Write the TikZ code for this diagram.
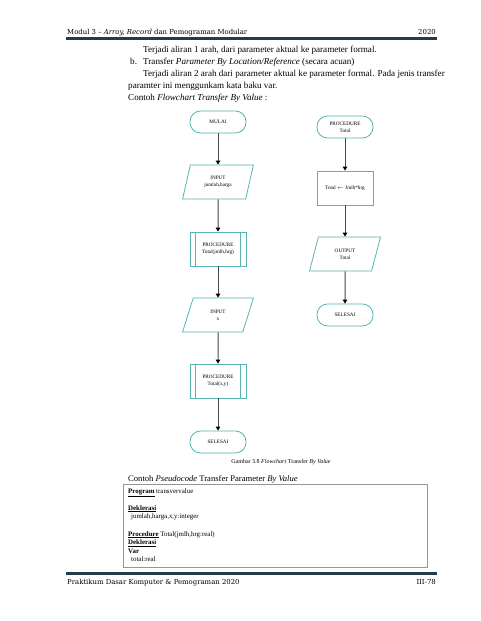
\documentclass[tikz,border=0pt]{standalone}
\usepackage{fontspec}
\setmainfont{Liberation Serif}
\newfontfamily\headfont{DejaVu Serif}
\usetikzlibrary{shapes.geometric,arrows.meta,positioning}
\definecolor{flowline}{RGB}{88,180,180}
\definecolor{rulecolor}{RGB}{34,60,74}
\definecolor{arrowgray}{RGB}{72,72,72}
\definecolor{boxgray}{RGB}{150,150,150}

\begin{document}
\begin{tikzpicture}[x=1pt,y=-1pt,
  flow node/.style={draw=flowline,fill=white,line width=0.8pt,align=center,
    inner sep=1pt,font=\fontsize{5.2}{6.8}\selectfont},
  term node/.style={flow node,rounded corners=10.5pt,minimum width=56pt,minimum height=22pt},
  io node/.style={flow node,trapezium,trapezium left angle=73,trapezium right angle=107,
    trapezium stretches=true,minimum width=71pt,minimum height=34pt},
  proc node/.style={flow node,minimum width=56pt,minimum height=34pt},
  flow arrow/.style={draw=arrowgray,line width=1pt,-{Triangle[length=4pt,width=4.5pt,color=black]}},
  head text/.style={font=\headfont\fontsize{6.9}{8}\selectfont,inner sep=0pt},
  body text/.style={anchor=base west,inner sep=0pt,font=\fontsize{9.1}{11}\selectfont},
  code text/.style={anchor=base west,inner sep=0pt,font=\fontsize{6.9}{8}\selectfont}]

  \useasboundingbox[fill=white] (0,0) rectangle (480,621);

  % header
  \node[head text,anchor=base west] (head) at (67,34.5) {Modul 3 – \textit{Array, Record} dan Pemograman Modular};
  \node[head text,anchor=base east] (year) at (436,34.5) {2020};
  \draw[rulecolor,line width=2.2pt] (66,38.5) -- (437,38.5);

  % body text
  \node[body text] (t1) at (143,52) {Terjadi aliran 1 arah, dari parameter aktual ke parameter formal.};
  \node[body text] (t2a) at (130,64) {b.};
  \node[body text] (t2) at (143,64) {Transfer \textit{Parameter By Location/Reference} (secara acuan)};
  \node[body text] (t3) at (143,76) {Terjadi aliran 2 arah dari parameter aktual ke parameter formal. Pada jenis transfer};
  \node[body text] (t4) at (128,88) {paramter ini menggunkam kata baku var.};
  \node[body text] (t5) at (128,100) {Contoh \textit{Flowchart Transfer By Value} :};

  % flowchart, main program
  \node[term node] (mulai) at (218,122) {MULAI};
  \node[io node] (in1) at (218,182) {INPUT\\jumlah,harga};
  \node[proc node] (sub1) at (218,249) {PROCEDURE\\Total(jmlh,hrg)};
  \node[io node] (in2) at (218,315) {INPUT\\x};
  \node[proc node] (sub2) at (218,381) {PROCEDURE\\Total(x,y)};
  \node[term node] (selesai1) at (218,442) {SELESAI};

  % flowchart, procedure
  \node[term node] (prc) at (345,127) {PROCEDURE\\Total};
  \node[proc node] (hitung) at (345,188) {Total $\leftarrow$ Jmlh*hrg};
  \node[io node] (out) at (345,254) {OUTPUT\\Total};
  \node[term node] (selesai2) at (345,315) {SELESAI};

  \foreach \s in {sub1,sub2} {
    \draw[flowline,line width=0.8pt] ([xshift=6pt]\s.north west) -- ([xshift=6pt]\s.south west);
    \draw[flowline,line width=0.8pt] ([xshift=-6pt]\s.north east) -- ([xshift=-6pt]\s.south east);
  }

  \draw[flow arrow] (mulai) -- (in1);
  \draw[flow arrow] (in1) -- (sub1);
  \draw[flow arrow] (sub1) -- (in2);
  \draw[flow arrow] (in2) -- (sub2);
  \draw[flow arrow] (sub2) -- (selesai1);
  \draw[flow arrow] (prc) -- (hitung);
  \draw[flow arrow] (hitung) -- (out);
  \draw[flow arrow] (out) -- (selesai2);

  \node[anchor=base,inner sep=0pt,font=\fontsize{6}{7}\selectfont] (caption) at (281,463)
    {Gambar 3.8 \textit{Flowchart} Transfer \textit{By Value}};

  % pseudocode
  \node[body text,font=\fontsize{8.6}{10}\selectfont] (pcap) at (128,481) {Contoh \textit{Pseudocode} Transfer Parameter \textit{By Value}};
  \draw[boxgray,line width=0.7pt] (123,484) rectangle (427,567);
  \node[code text] (c1) at (128,493) {\underline{\textbf{Program}} transvervalue};
  \node[code text] (c2) at (128,510) {\underline{\textbf{Deklerasi}}};
  \node[code text] (c3) at (131,518.5) {jumlah,harga,x,y:integer};
  \node[code text] (c4) at (128,536) {\underline{\textbf{Procedure}} Total(jmlh,hrg:real)};
  \node[code text] (c5) at (128,544.5) {\underline{\textbf{Deklerasi}}};
  \node[code text] (c6) at (128,553) {\textbf{Var}};
  \node[code text] (c7) at (131,561.5) {total:real};

  % footer
  \draw[rulecolor,line width=2.2pt] (66,573.5) -- (437,573.5);
  \node[head text,anchor=base west] (foot) at (67,584) {Praktikum Dasar Komputer \& Pemograman 2020};
  \node[head text,anchor=base east] (page) at (436,584) {III-78};
\end{tikzpicture}
\end{document}
